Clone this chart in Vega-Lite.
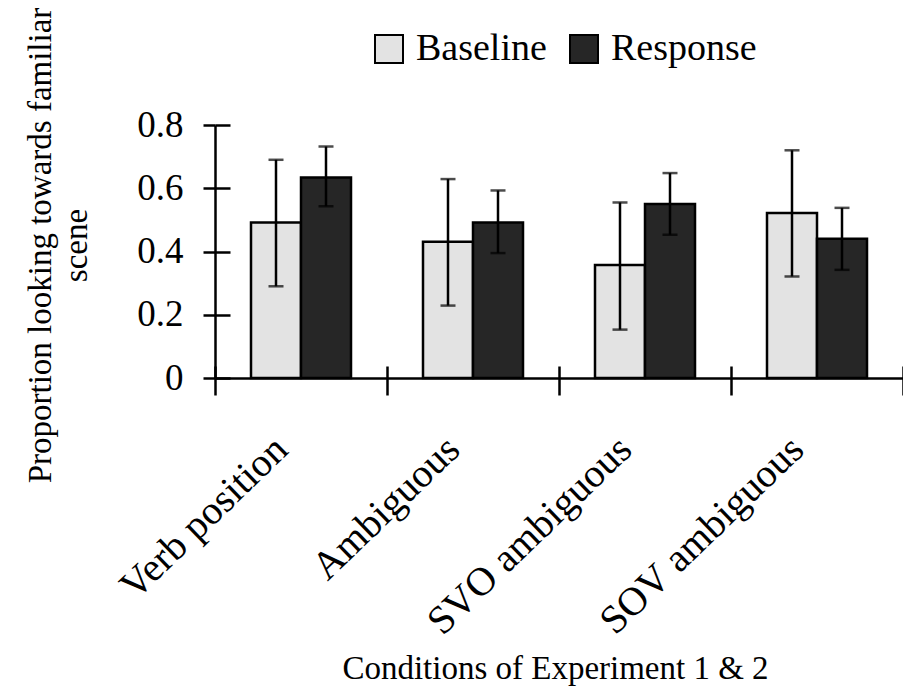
{
  "$schema": "https://vega.github.io/schema/vega-lite/v6.json",
  "width": 688,
  "height": 253,
  "autosize": "none",
  "padding": {"left": 215, "top": 125, "right": 0, "bottom": 314},
  "background": "white",
  "config": {
    "font": "Liberation Serif",
    "view": {"stroke": null},
    "axis": {
      "domainColor": "black",
      "tickColor": "black",
      "labelColor": "black",
      "titleColor": "black",
      "grid": false,
      "labelFont": "Liberation Serif",
      "titleFont": "Liberation Serif",
      "titleFontWeight": "normal"
    },
    "legend": {"labelFont": "Liberation Serif"}
  },
  "data": {
    "values": [
      {"condition": "Verb position", "group": "Baseline", "value": 0.492, "lo": 0.29, "hi": 0.69},
      {"condition": "Verb position", "group": "Response", "value": 0.634, "lo": 0.543, "hi": 0.732},
      {"condition": "Ambiguous", "group": "Baseline", "value": 0.431, "lo": 0.229, "hi": 0.629},
      {"condition": "Ambiguous", "group": "Response", "value": 0.492, "lo": 0.395, "hi": 0.593},
      {"condition": "SVO ambiguous", "group": "Baseline", "value": 0.357, "lo": 0.153, "hi": 0.555},
      {"condition": "SVO ambiguous", "group": "Response", "value": 0.55, "lo": 0.453, "hi": 0.648},
      {"condition": "SOV ambiguous", "group": "Baseline", "value": 0.522, "lo": 0.321, "hi": 0.72},
      {"condition": "SOV ambiguous", "group": "Response", "value": 0.44, "lo": 0.342, "hi": 0.538}
    ]
  },
  "resolve": {"axis": {"x": "independent", "y": "independent"}},
  "layer": [
    {
      "mark": {"type": "bar", "stroke": "black", "strokeWidth": 2.5},
      "encoding": {
        "x": {
          "field": "condition", "type": "nominal",
          "sort": ["Verb position", "Ambiguous", "SVO ambiguous", "SOV ambiguous"],
          "scale": {"paddingInner": 0, "paddingOuter": 0},
          "axis": {
            "orient": "bottom",
            "tickBand": "extent",
            "tickSize": 17,
            "tickWidth": 2.5,
            "domainWidth": 2.5,
            "labelAngle": -44,
            "labelAlign": "right",
            "labelBaseline": "middle",
            "labelFontSize": 40,
            "labelLimit": 0,
            "labelPadding": 48,
            "labelOffset": -20,
            "title": "Conditions of Experiment 1 & 2",
            "titleFontSize": 33,
            "titleBaseline": "alphabetic",
            "titleX": 340,
            "titleY": 300
          }
        },
        "xOffset": {
          "field": "group", "type": "nominal",
          "sort": ["Baseline", "Response"],
          "scale": {"paddingInner": 0, "paddingOuter": 0.72}
        },
        "y": {
          "field": "value", "type": "quantitative",
          "scale": {"domain": [0, 0.8], "nice": false, "zero": true},
          "axis": {
            "orient": "left",
            "values": [0, 0.2, 0.4, 0.6, 0.8],
            "format": "~g",
            "tickSize": 12,
            "tickWidth": 2.5,
            "domainWidth": 2.5,
            "labelFontSize": 37,
            "labelPadding": 20,
            "title": ["Proportion looking towards familiar", "scene"],
            "titleFontSize": 33,
            "titleLineHeight": 36,
            "titleAngle": -90,
            "titleAlign": "center",
            "titleBaseline": "alphabetic",
            "titleX": -165,
            "titleY": 120
          }
        },
        "fill": {
          "field": "group", "type": "nominal",
          "scale": {"domain": ["Baseline", "Response"], "range": ["#e3e3e3", "#262626"]},
          "legend": {
            "orient": "none",
            "legendX": 155,
            "legendY": -95,
            "direction": "horizontal",
            "title": null,
            "symbolType": "square",
            "symbolSize": 784,
            "symbolStrokeColor": "black",
            "symbolStrokeWidth": 2,
            "labelFontSize": 38,
            "labelOffset": 8,
            "columnPadding": 18,
            "padding": 0,
            "labelColor": "black"
          }
        }
      }
    },
    {
      "mark": {"type": "rule", "color": "black", "strokeWidth": 2.5},
      "encoding": {
        "x": {
          "field": "condition", "type": "nominal",
          "sort": ["Verb position", "Ambiguous", "SVO ambiguous", "SOV ambiguous"],
          "axis": {
            "orient": "bottom",
            "tickBand": "extent",
            "tickSize": -12,
            "tickWidth": 2.5,
            "labels": false,
            "domain": false,
            "title": null
          }
        },
        "xOffset": {"field": "group", "type": "nominal", "sort": ["Baseline", "Response"]},
        "y": {
          "field": "lo", "type": "quantitative",
          "axis": {
            "orient": "left",
            "values": [0, 0.2, 0.4, 0.6, 0.8],
            "tickSize": -15,
            "tickWidth": 2.5,
            "labels": false,
            "domain": false,
            "title": null
          }
        },
        "y2": {"field": "hi"}
      }
    },
    {
      "mark": {"type": "tick", "color": "black", "size": 15, "thickness": 2.5},
      "encoding": {
        "x": {"field": "condition", "type": "nominal", "sort": ["Verb position", "Ambiguous", "SVO ambiguous", "SOV ambiguous"], "axis": null},
        "xOffset": {"field": "group", "type": "nominal", "sort": ["Baseline", "Response"]},
        "y": {"field": "hi", "type": "quantitative", "axis": null}
      }
    },
    {
      "mark": {"type": "tick", "color": "black", "size": 15, "thickness": 2.5},
      "encoding": {
        "x": {"field": "condition", "type": "nominal", "sort": ["Verb position", "Ambiguous", "SVO ambiguous", "SOV ambiguous"], "axis": null},
        "xOffset": {"field": "group", "type": "nominal", "sort": ["Baseline", "Response"]},
        "y": {"field": "lo", "type": "quantitative", "axis": null}
      }
    }
  ]
}
